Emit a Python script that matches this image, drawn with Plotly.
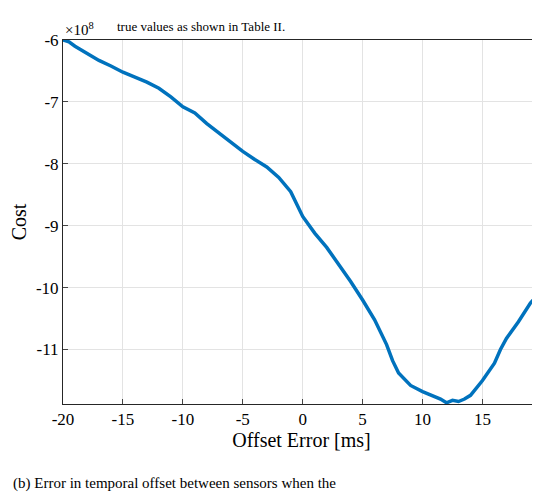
import plotly.graph_objects as go

# offset error [ms] and cost (x1e8)
offset = [-20, -19.5, -19, -18, -17, -16, -15, -14, -13, -12, -11, -10, -9, -8, -7, -6, -5,
          -4, -3, -2, -1, 0, 1, 2, 3, 4, 5, 6, 7, 7.5, 8, 8.5, 9, 10, 11, 11.5, 12, 12.5,
          13, 13.5, 14, 15, 16, 16.5, 17, 18, 19, 19.8]
cost = [-6.00, -6.03, -6.10, -6.22, -6.33, -6.42, -6.52, -6.60, -6.68, -6.78, -6.92, -7.08,
        -7.18, -7.35, -7.50, -7.65, -7.80, -7.93, -8.05, -8.22, -8.45, -8.85, -9.12, -9.35,
        -9.62, -9.90, -10.20, -10.52, -10.92, -11.18, -11.38, -11.48, -11.58, -11.68,
        -11.76, -11.80, -11.86, -11.82, -11.84, -11.80, -11.74, -11.50, -11.22, -11.00,
        -10.82, -10.55, -10.25, -10.08]

ticks_x = [-20, -15, -10, -5, 0, 5, 10, 15]
ticks_y = [-6, -7, -8, -9, -10, -11]

font = dict(family="Liberation Serif", size=17, color="black")

fig = go.Figure()
fig.add_trace(go.Scatter(x=offset, y=cost, mode="lines",
                         line=dict(color="#0072BD", width=3.5), showlegend=False))

# the page shows the figure shifted by its 8px body margin, so shrink to fit
fig.update_layout(
    width=532, height=484,
    margin=dict(l=55, r=0, t=32, b=88, autoexpand=False),
    plot_bgcolor="white", paper_bgcolor="white",
    font=font,
)
fig.update_xaxes(range=[-20, 19.8], tickvals=ticks_x, ticktext=[str(v) for v in ticks_x],
                 showgrid=True, gridcolor="#e3e3e3", automargin=False,
                 showline=True, linecolor="#262626", mirror=True, ticks="inside", ticklen=5,
                 zeroline=False, title=dict(text="Offset Error [ms]", standoff=4))
fig.update_yaxes(range=[-11.88, -6], tickvals=ticks_y, ticktext=[str(v) for v in ticks_y],
                 showgrid=True, gridcolor="#e3e3e3", automargin=False,
                 showline=True, linecolor="#262626", mirror=True, ticks="inside", ticklen=5,
                 zeroline=False, title=dict(text="Cost", standoff=6))

fig.add_annotation(text="×10<sup>8</sup>", xref="paper", yref="paper", x=0, y=1,
                   xanchor="left", yanchor="bottom", showarrow=False,
                   font=dict(family="Liberation Serif", size=15, color="black"))
fig.add_annotation(text="true values as shown in Table II.", xref="paper", yref="paper",
                   x=0.11, y=1.01, xanchor="left", yanchor="bottom", showarrow=False,
                   font=dict(family="Liberation Serif", size=13, color="black"))
fig.add_annotation(text="(b) Error in temporal offset between sensors when the",
                   xref="paper", yref="paper", x=-0.11, y=-0.19, xanchor="left",
                   yanchor="top", showarrow=False,
                   font=dict(family="Liberation Serif", size=15, color="black"))

fig.write_html("out.html")
